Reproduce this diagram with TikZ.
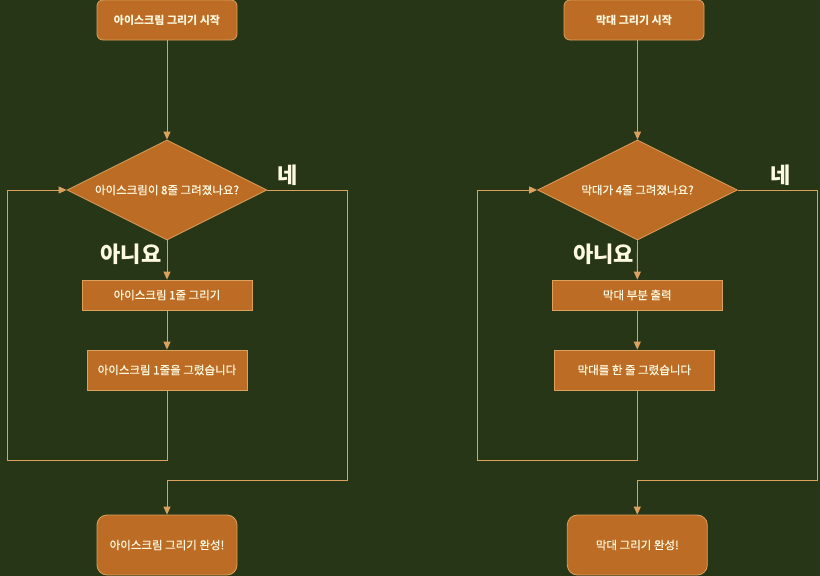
\documentclass[tikz,border=0pt]{standalone}
\usepackage{fontspec}
\newfontfamily\kr{Noto Sans CJK KR}
\newfontfamily\krm[FakeBold=0.6]{Noto Sans CJK KR}
\usetikzlibrary{shapes.geometric,arrows.meta}
\definecolor{bg}{HTML}{283618}
\definecolor{nodefill}{HTML}{BC6C25}
\definecolor{edge}{HTML}{DDA15E}
\definecolor{txt}{HTML}{FEFAE0}
\begin{document}
\begin{tikzpicture}[x=1pt,y=-1pt,
  base/.style={draw=edge,fill=nodefill,text=txt,line width=0.8pt,inner sep=0pt,font=\krm\fontsize{11.5}{13}\selectfont},
  startbox/.style={base,rounded corners=6pt,minimum width=140pt,minimum height=40pt,font=\kr\bfseries\fontsize{11}{13}\selectfont},
  endbox/.style={base,rounded corners=10pt,minimum width=140pt,minimum height=60pt},
  procbox/.style={base},
  decision/.style={base,diamond,shape aspect=2,minimum width=200pt,minimum height=100pt},
  lbl/.style={text=txt,font=\kr\bfseries\fontsize{22}{24}\selectfont,inner sep=0pt},
  conn/.style={draw=edge,line width=0.9pt,-{Triangle[width=7pt,length=8pt]}}]
\fill[bg] (0,0) rectangle (820,576);
\useasboundingbox (0,0) rectangle (820,576);
% left flow
\node[startbox] (s1) at (167,20) {아이스크림 그리기 시작};
\node[decision] (d1) at (167,190) {아이스크림이 8줄 그려졌나요?};
\node[procbox,minimum width=170pt,minimum height=30pt] (b1) at (167,295) {아이스크림 1줄 그리기};
\node[procbox,minimum width=160pt,minimum height=40pt] (b2) at (167,370) {아이스크림 1줄을 그렸습니다};
\node[endbox] (e1) at (167,545) {아이스크림 그리기 완성!};
\coordinate (L1) at (7,460);
\coordinate (Y1) at (347,480);
\node[lbl] (yes1) at (287.5,175) {네};
\node[lbl] (no1) at (131,254) {아니요};
\draw[conn] (s1.south) -- (d1.north);
\draw[conn] (d1.south) -- (b1.north);
\draw[conn] (b1.south) -- (b2.north);
\draw[conn] (b2.south) |- (L1) |- (d1.west);
\draw[conn] (d1.east) -| (Y1) -| (e1.north);
% right flow
\node[startbox] (s2) at (634,20) {막대 그리기 시작};
\node[decision] (d2) at (637.5,190) {막대가 4줄 그려졌나요?};
\node[procbox,minimum width=170pt,minimum height=30pt] (b3) at (637.3,295) {막대 부분 출력};
\node[procbox,minimum width=160pt,minimum height=40pt] (b4) at (634.3,370) {막대를 한 줄 그렸습니다};
\node[endbox] (e2) at (637.3,545) {막대 그리기 완성!};
\coordinate (L2) at (477.3,460);
\coordinate (Y2) at (817.7,480);
\node[lbl] (yes2) at (781,175) {네};
\node[lbl] (no2) at (603.5,254) {아니요};
\draw[conn] (d2 |- s2.south) -- (d2.north);
\draw[conn] (d2.south) -- (b3.north);
\draw[conn] (b3.south) -- (b3.south |- b4.north);
\draw[conn] (b3.south |- b4.south) |- (L2) |- (d2.west);
\draw[conn] (d2.east) -| (Y2) -| (e2.north);
\end{tikzpicture}
\end{document}
